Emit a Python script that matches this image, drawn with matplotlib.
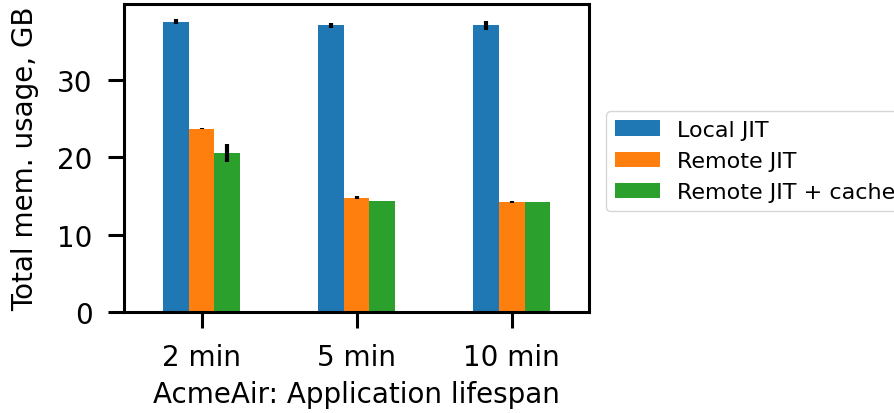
import matplotlib.pyplot as plt
import numpy as np

# Dados
groups = ['2 min', '5 min', '10 min']
series = ['Local JIT', 'Remote JIT', 'Remote JIT + cache']
local_jit = [37.5, 37.05, 37.05]
remote_jit = [23.7, 14.75, 14.2]
remote_cache = [20.5, 14.35, 14.2]
local_err = [0.3, 0.35, 0.6]
remote_err = [0.1, 0.2, 0.1]
cache_err = [1.15, 0.05, 0.05]

values = [local_jit, remote_jit, remote_cache]
errors = [local_err, remote_err, cache_err]
colors = ['#1f77b4', '#ff7f0e', '#2ca02c']

plt.rcParams['font.size'] = 20

fig = plt.figure(figsize=(8.94, 4.14), dpi=100)
ax = fig.add_axes([0.1387, 0.244, 0.5203, 0.744])

x = np.arange(len(groups))
w = 0.5 / 3
for i, (name, v, e) in enumerate(zip(series, values, errors)):
    ax.bar(x + (i - 1) * w, v, w, yerr=e, color=colors[i], label=name,
           error_kw=dict(ecolor='black', elinewidth=3, capsize=0))

ax.set_xlim(-0.5, 2.5)
ax.set_ylim(0, 39.8)
ax.set_yticks([0, 10, 20, 30])
ax.set_xticks(x)
ax.set_xticklabels(groups)
ax.set_xlabel('AcmeAir: Application lifespan', labelpad=6.5)
ax.set_ylabel('Total mem. usage, GB', labelpad=13)

for s in ax.spines.values():
    s.set_linewidth(2.2)
ax.tick_params(width=2.2, length=11.5, labelsize=20, pad=11)

ax.legend(loc='center left', bbox_to_anchor=(1.013, 0.49), fontsize=16)

fig.savefig('out.png', dpi=100)
